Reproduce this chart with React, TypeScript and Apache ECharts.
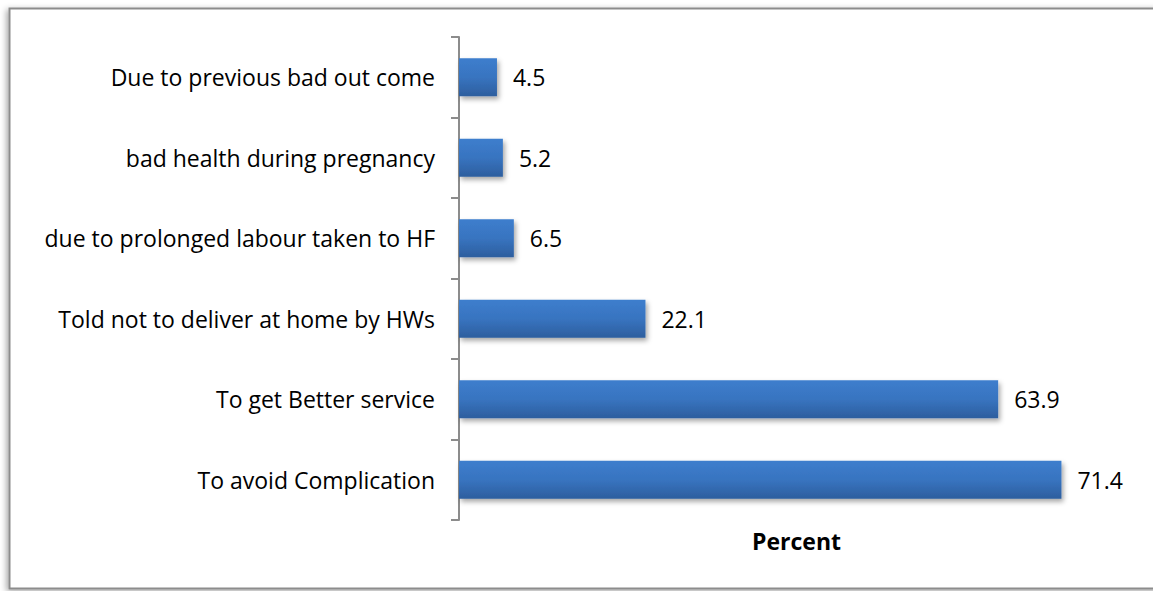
import React, { useEffect, useRef } from "react";
import * as echarts from "echarts";

const categories = [
  "To avoid Complication",
  "To get Better service",
  "Told not to deliver at home by HWs",
  "due to prolonged labour taken to HF",
  "bad health during pregnancy",
  "Due to previous bad out come",
];
const values = [71.4, 63.9, 22.1, 6.5, 5.2, 4.5];
const axisName = "Percent";

export default function App() {
  const ref = useRef<HTMLDivElement>(null);
  useEffect(() => {
    const chart = echarts.init(ref.current!, undefined, { renderer: "svg" });
    const font = "'Open Sans', sans-serif";
    chart.setOption({
      animation: false,
      backgroundColor: "#ffffff",
      graphic: [
        {
          type: "rect",
          shape: { x: 9.5, y: 8.5, width: 1160, height: 580 },
          style: {
            fill: "#ffffff",
            stroke: "#8c8c8c",
            lineWidth: 2,
            shadowBlur: 6,
            shadowColor: "rgba(0,0,0,0.35)",
            shadowOffsetX: -2,
            shadowOffsetY: 2,
          },
          z: -10,
          silent: true,
        },
      ],
      grid: { left: 459, top: 37, width: 675, height: 483, containLabel: false },
      xAxis: {
        type: "value",
        min: 0,
        max: 80,
        axisLabel: { show: false },
        axisLine: { show: false },
        axisTick: { show: false },
        splitLine: { show: false },
        name: axisName,
        nameLocation: "middle",
        nameGap: 9,
        nameTextStyle: { fontFamily: font, fontWeight: "bold", fontSize: 23, color: "#000" },
      },
      yAxis: {
        type: "category",
        data: categories,
        axisLine: { show: true, lineStyle: { color: "#8c8c8c", width: 2 } },
        axisTick: { show: true, length: 8, lineStyle: { color: "#8c8c8c", width: 2 } },
        axisLabel: { fontFamily: font, fontSize: 23, color: "#000", margin: 24 },
      },
      series: [
        {
          type: "bar",
          data: values,
          barWidth: 38,
          itemStyle: {
            color: new echarts.graphic.LinearGradient(0, 0, 0, 1, [
              { offset: 0, color: "#3d7ecd" },
              { offset: 0.5, color: "#3874c0" },
              { offset: 1, color: "#2d5e9e" },
            ]),
            shadowBlur: 5,
            shadowColor: "rgba(0,0,0,0.35)",
            shadowOffsetX: 2,
            shadowOffsetY: 3,
          },
          label: {
            show: true,
            position: "right",
            distance: 16,
            fontFamily: font,
            fontSize: 23,
            color: "#000",
            formatter: (p: any) => p.value.toFixed(1),
          },
        },
      ],
    });
    return () => chart.dispose();
  }, []);
  return (
    <div
      ref={ref}
      style={{ position: "fixed", left: 0, top: 0, width: 1153, height: 591 }}
    />
  );
}
